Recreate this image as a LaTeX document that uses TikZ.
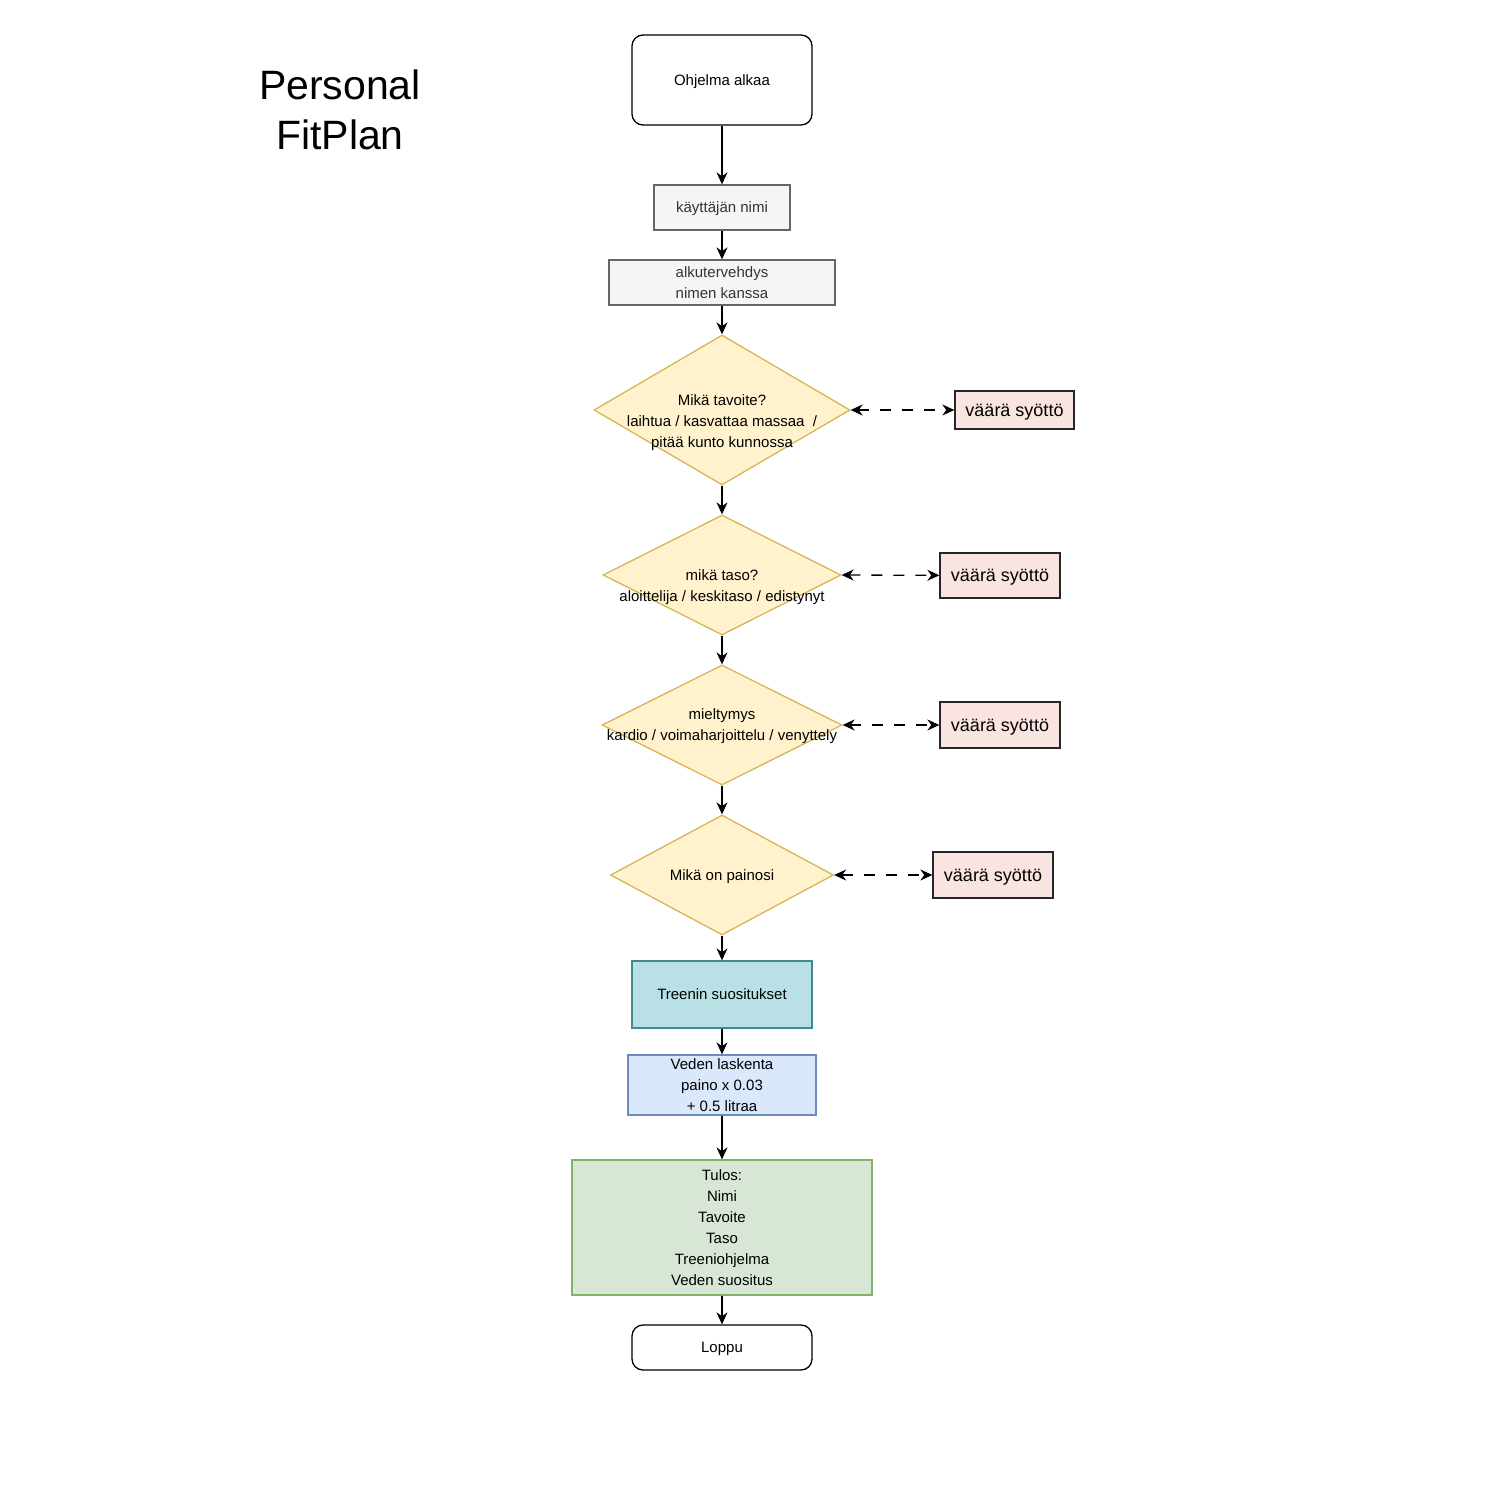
\documentclass[tikz,border=0pt]{standalone}
\usepackage{fontspec}
\setmainfont{Liberation Sans}
\usetikzlibrary{shapes.geometric, arrows.meta, positioning}
\definecolor{decFillCol}{HTML}{FFF2CC}
\definecolor{decDrawCol}{HTML}{D6B656}
\definecolor{errFillCol}{HTML}{FAE4E1}
\definecolor{inFillCol}{HTML}{F5F5F5}
\definecolor{inDrawCol}{HTML}{666666}
\definecolor{inTextCol}{HTML}{333333}
\definecolor{tealFillCol}{HTML}{B9E1E5}
\definecolor{tealDrawCol}{HTML}{3F8A8F}
\definecolor{blueFillCol}{HTML}{DAE8FC}
\definecolor{blueDrawCol}{HTML}{6C8EBF}
\definecolor{greenFillCol}{HTML}{D8E7D5}
\definecolor{greenDrawCol}{HTML}{82B366}
\tikzset{myFont/.style={font=\fontsize{15}{21}\selectfont, text depth=0pt}}
\tikzset{myBox/.style={myFont, rectangle, line width=1.3pt, align=center, inner sep=0pt}}
\tikzset{myTerm/.style={myBox, draw=black, rounded corners=11pt, minimum width=180pt}}
\tikzset{myInput/.style={myBox, draw=inDrawCol, fill=inFillCol, text=inTextCol, minimum height=45pt}}
\tikzset{myDecision/.style={diamond, draw=decDrawCol, fill=decFillCol, line width=1.3pt, inner sep=0pt}}
\tikzset{myError/.style={rectangle, draw=black!85, fill=errFillCol, line width=1.3pt, font=\fontsize{18}{22}\selectfont, text depth=0pt, minimum width=120pt, inner sep=0pt}}
\tikzset{myArrow/.style={line width=1.3pt, -{Stealth[length=12pt,width=11pt]}}}
\tikzset{myDashArrow/.style={line width=1.3pt, dash pattern=on 11pt off 11pt, {Stealth[length=12pt,width=11pt]}-{Stealth[length=12pt,width=11pt]}}}

\begin{document}
\begin{tikzpicture}[x=1pt, y=-1pt]
        \useasboundingbox[fill=white] (0,0) rectangle (1508,1502);
		\node[font=\fontsize{41}{50}\selectfont, align=center] (title) at (340,110) {Personal\\FitPlan};
		
		\node[myTerm, minimum height=90pt] (start) at (722,80) {Ohjelma alkaa};
		\node[myInput, minimum width=136pt] (name) at (722,207.5) {käyttäjän nimi};
		\node[myInput, minimum width=226pt] (greet) at (722,282.5) {alkutervehdys\\nimen kanssa};
		
		\node[myDecision, minimum width=256pt, minimum height=150pt, label={[myFont, align=center, yshift=-11pt]center:Mikä tavoite?\\laihtua / kasvattaa massaa\ \ /\\pitää kunto kunnossa}] (goal) at (722,410) {};
		\node[myDecision, minimum width=238pt, minimum height=120pt, label={[myFont, align=center, yshift=-10.5pt]center:mikä taso?\\aloittelija / keskitaso / edistynyt}] (level) at (722,575) {};
		\node[myDecision, minimum width=240pt, minimum height=120pt, label={[myFont, align=center]center:mieltymys\\kardio / voimaharjoittelu / venyttely}] (pref) at (722,725) {};
		\node[myDecision, minimum width=223pt, minimum height=120pt, label={[myFont, align=center]center:Mikä on painosi}] (weight) at (722,875) {};
		
		\node[myError, minimum width=119pt, minimum height=38pt] (err1) at (1014.5,410) {väärä syöttö};
		\node[myError, minimum height=45pt] (err2) at (1000,575.5) {väärä syöttö};
		\node[myError, minimum height=46pt] (err3) at (1000,725) {väärä syöttö};
		\node[myError, minimum height=46pt] (err4) at (993,875) {väärä syöttö};
		
		\node[myBox, draw=tealDrawCol, fill=tealFillCol, minimum width=180pt, minimum height=67pt] (train) at (722,994.5) {Treenin suositukset};
		\node[myBox, draw=blueDrawCol, fill=blueFillCol, minimum width=188pt, minimum height=60pt] (water) at (722,1085) {Veden laskenta\\paino x 0.03\\+ 0.5 litraa};
		\node[myBox, draw=greenDrawCol, fill=greenFillCol, minimum width=300pt, minimum height=135pt] (result) at (722,1227.5) {Tulos:\\Nimi\\Tavoite\\Taso\\Treeniohjelma\\Veden suositus};
		\node[myTerm, minimum height=45pt] (stop) at (722,1347.5) {Loppu};
		
		\draw[myArrow] (start) -- (name);
		\draw[myArrow] (name) -- (greet);
		\draw[myArrow] (greet) -- (goal.north);
		\draw[myArrow] (goal.south) -- (level.north);
		\draw[myArrow] (level.south) -- (pref.north);
		\draw[myArrow] (pref.south) -- (weight.north);
		\draw[myArrow] (weight.south) -- (train);
		\draw[myArrow] (train) -- (water);
		\draw[myArrow] (water) -- (result);
		\draw[myArrow] (result) -- (stop);
		
		\draw[myDashArrow] (goal.east) -- (err1);
		\draw[myDashArrow] (level.east) -- (err2);
		\draw[myDashArrow] (pref.east) -- (err3);
		\draw[myDashArrow] (weight.east) -- (err4);
	\end{tikzpicture}
\end{document}
